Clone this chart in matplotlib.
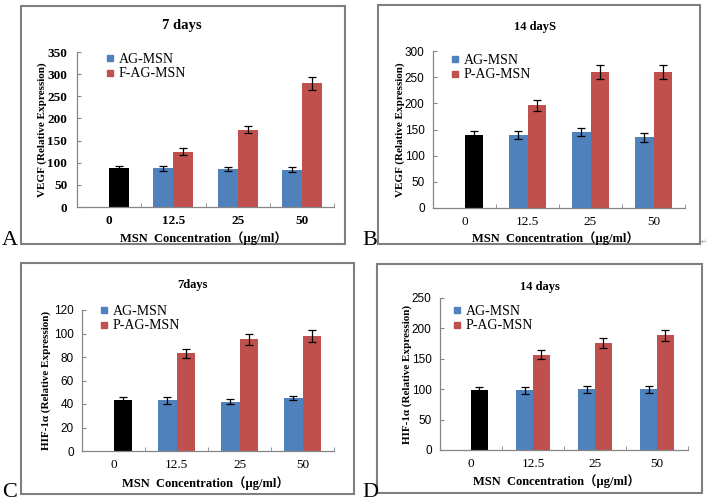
import matplotlib.pyplot as plt
from matplotlib.lines import Line2D
from matplotlib.patches import Rectangle

W, H = 708, 501

# Data
concentrations = ["0", "12.5", "25", "50"]

# A: VEGF, 7 days
a_control, a_control_err = 88, 4
a_ag = [87, 86, 84]
a_ag_err = [5, 4, 6]
a_fag = [125, 175, 279]
a_fag_err = [8, 9, 15]

# B: VEGF, 14 days
b_control, b_control_err = 140, 8
b_ag = [140, 145, 135]
b_ag_err = [8, 8, 8]
b_pag = [196, 260, 260]
b_pag_err = [11, 13, 14]

# C: HIF-1a, 7 days
c_control, c_control_err = 43, 3
c_ag = [43, 42, 45]
c_ag_err = [3, 2, 2]
c_pag = [83, 95, 98]
c_pag_err = [4, 5, 5]

# D: HIF-1a, 14 days
d_control, d_control_err = 98, 6
d_ag = [98, 100, 100]
d_ag_err = [6, 6, 6]
d_pag = [157, 176, 189]
d_pag_err = [8, 8, 9]

BLUE = "#4F81BD"
RED = "#C0504D"
GREY = "#868686"
SERIF = ["Liberation Serif", "Noto Sans CJK SC"]
SANS = ["Liberation Sans", "DejaVu Sans"]

fig = plt.figure(figsize=(W / 100, H / 100), dpi=100)


def fx(x):
    return x / W


def fy(y):
    return 1 - y / H


def frame(x0, y0, x1, y1):
    fig.patches.append(Rectangle((fx(x0), fy(y1)), fx(x1 - x0), (y1 - y0) / H,
                                 transform=fig.transFigure, fill=False,
                                 edgecolor="#7f7f7f", linewidth=1.5))


def panel(box, ymax, ystep, control, control_err, ag, ag_err, treat, treat_err,
          treat_label, title, title_xy, title_size, ylabel, ylabel_x,
          xlabel_xy, legend_xy, tick_bold, tick_family, width):
    l, r, t, b = box
    ax = fig.add_axes([fx(l), fy(b), fx(r - l), (b - t) / H])
    xs = list(range(1, len(concentrations)))
    err_style = dict(elinewidth=0.9, capthick=0.9)
    ax.bar([0 + width / 2], [control], width, color="black",
           yerr=[control_err], capsize=3, error_kw=err_style)
    ax.bar([x - width / 2 for x in xs], ag, width, color=BLUE,
           yerr=ag_err, capsize=3, error_kw=err_style)
    ax.bar([x + width / 2 for x in xs], treat, width, color=RED,
           yerr=treat_err, capsize=3, error_kw=err_style)
    ax.set_xlim(-0.5, len(concentrations) - 0.5)
    ax.set_ylim(0, ymax)
    ax.set_yticks(range(0, ymax + 1, ystep))
    ax.set_xticks(range(len(concentrations)))
    ax.set_xticks([i - 0.5 for i in range(len(concentrations) + 1)], minor=True)
    ax.set_xticklabels(concentrations, family=SERIF, fontsize=9.5,
                       fontweight="bold" if tick_bold else "normal")
    for lab in ax.get_yticklabels():
        lab.set_family(tick_family)
        lab.set_fontsize(9.5 if tick_bold else 8.5)
        lab.set_fontweight("bold" if tick_bold else "normal")
    ax.tick_params(axis="x", which="major", length=0, pad=6)
    ax.tick_params(axis="x", which="minor", length=3, direction="in", color=GREY)
    ax.tick_params(axis="y", length=3, direction="in", color=GREY,
                   pad=7 if tick_bold else 6)
    for side in ("top", "right"):
        ax.spines[side].set_visible(False)
    for side in ("left", "bottom"):
        ax.spines[side].set_color(GREY)
        ax.spines[side].set_linewidth(0.9)
    ax.patch.set_alpha(0)

    fig.text(fx(title_xy[0]), fy(title_xy[1]), title, family=SERIF,
             fontsize=title_size, fontweight="bold", ha="center", va="center")
    fig.text(fx(ylabel_x), fy((t + b) / 2), ylabel, family=SERIF, fontsize=8,
             fontweight="bold", rotation=90, ha="center", va="center")
    fig.text(fx(xlabel_xy[0]), fy(xlabel_xy[1]), "MSN  Concentration（μg/ml）",
             family=SERIF, fontsize=9, fontweight="bold", ha="center", va="center")

    handles = [Line2D([], [], linestyle="none", marker="s", markersize=5,
                      color=BLUE, label="AG-MSN"),
               Line2D([], [], linestyle="none", marker="s", markersize=5,
                      color=RED, label=treat_label)]
    ax.legend(handles=handles, loc="upper left",
              bbox_to_anchor=(fx(legend_xy[0]), fy(legend_xy[1])),
              bbox_transform=fig.transFigure, frameon=False,
              prop=dict(family=SERIF, size=10), handlelength=0.6,
              handletextpad=0.3, labelspacing=0.1, borderpad=0, borderaxespad=0)
    return ax


# panel frames
frame(21, 6, 345, 244)
frame(378, 5, 700, 244)
frame(21, 263, 354, 494)
frame(377, 264, 702, 493)

panel((77, 334, 52, 207), 350, 50, a_control, a_control_err, a_ag, a_ag_err,
      a_fag, a_fag_err, "F-AG-MSN", "7 days", (182, 25), 10.5,
      "VEGF (Relative Expression)", 42, (203, 238), (106, 53), True, SERIF, 0.31)
panel((433, 685, 51, 208), 300, 50, b_control, b_control_err, b_ag, b_ag_err,
      b_pag, b_pag_err, "P-AG-MSN", "14 dayS", (535, 27), 9,
      "VEGF (Relative Expression)", 400, (555, 238), (451, 54), False, SANS, 0.3)
panel((82, 334, 310, 451), 120, 20, c_control, c_control_err, c_ag, c_ag_err,
      c_pag, c_pag_err, "P-AG-MSN", "7days", (192, 285), 9,
      "HIF-1α (Relative Expression)", 46, (205, 483), (100, 305), False, SANS, 0.3)
panel((440, 688, 298, 450), 250, 50, d_control, d_control_err, d_ag, d_ag_err,
      d_pag, d_pag_err, "P-AG-MSN", "14 days", (540, 287), 9,
      "HIF-1α (Relative Expression)", 407, (556, 481), (453, 305), False, SANS, 0.27)

# panel letters
for letter, x, y in [("A", 2, 245), ("B", 362, 245), ("C", 2, 497), ("D", 362, 497)]:
    fig.text(fx(x), fy(y), letter, family=SERIF, fontsize=16, ha="left", va="baseline")
fig.text(fx(701), fy(244), "↵", fontsize=5, color="#999999", ha="left", va="baseline")

fig.savefig("out.png", dpi=100)
